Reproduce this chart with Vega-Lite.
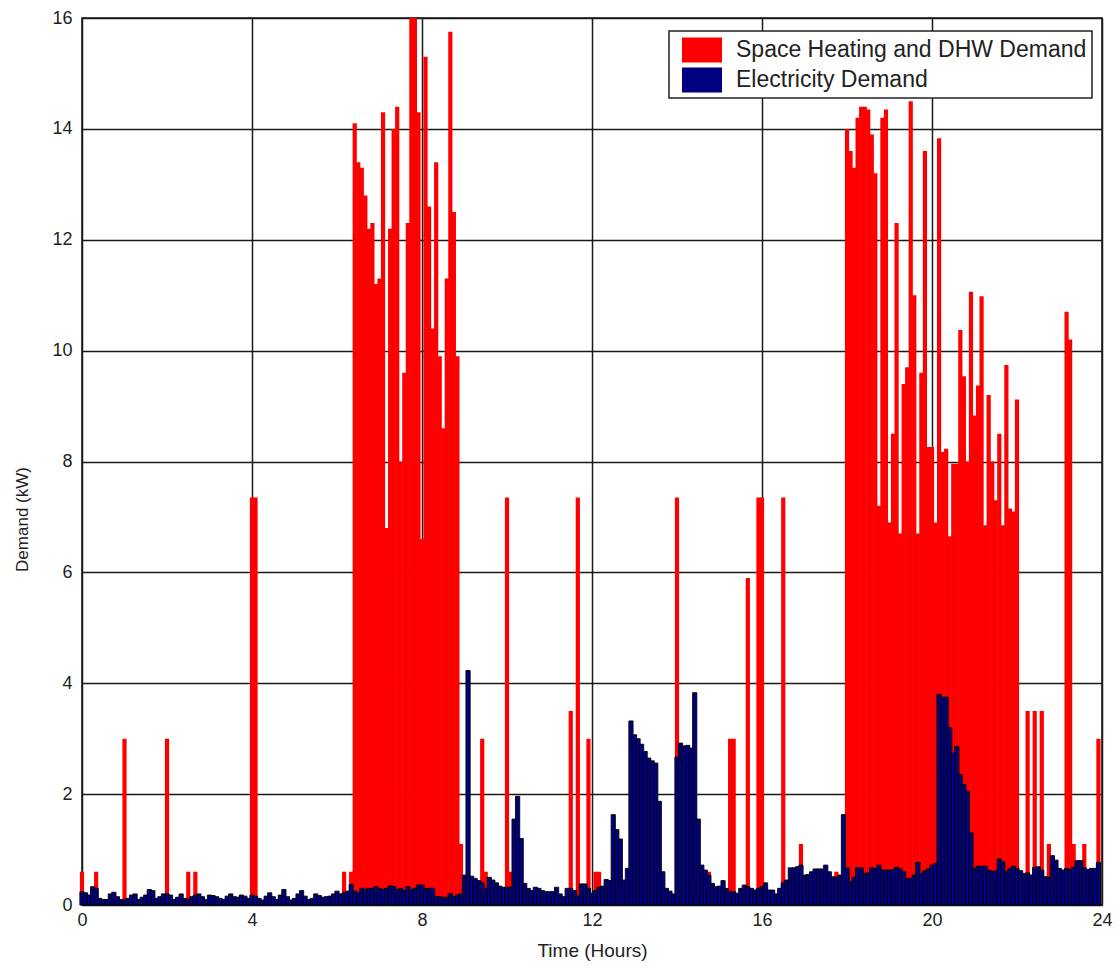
{
"$schema": "https://vega.github.io/schema/vega-lite/v6.json",
"width": 1020, "height": 887,
"autosize": {"type": "none"},
"padding": {"left": 82, "top": 18, "right": 18, "bottom": 69},
"background": "white",
"config": {
  "view": {"stroke": "#111111", "strokeWidth": 1.5},
  "font": "Liberation Sans",
  "axis": {"gridColor": "#1a1a1a", "gridWidth": 1.5, "gridOpacity": 1, "domain": false, "ticks": false, "tickSize": 0,
    "labelFont": "Liberation Sans", "labelColor": "#222222", "titleFont": "Liberation Sans", "titleColor": "#222222", "titleFontWeight": "normal"}
},
"data": {"values": [
{"m":0,"h":0.6,"e":0.24},{"m":5,"e":0.22},{"m":10,"e":0.18},{"m":15,"e":0.33},{"m":20,"h":0.6,"e":0.3},{"m":25,"e":0.12},{"m":30,"e":0.1},{"m":35,"e":0.1},{"m":40,"e":0.2},{"m":45,"e":0.23},{"m":50,"e":0.15},{"m":55,"e":0.1},
{"m":60,"h":3.0,"e":0.1},{"m":65,"e":0.12},{"m":70,"e":0.18},{"m":75,"e":0.2},{"m":80,"e":0.1},{"m":85,"e":0.14},{"m":90,"e":0.18},{"m":95,"e":0.28},{"m":100,"e":0.26},{"m":105,"e":0.12},{"m":110,"e":0.15},{"m":115,"e":0.2},
{"m":120,"h":3.0,"e":0.2},{"m":125,"e":0.18},{"m":130,"e":0.1},{"m":135,"e":0.14},{"m":140,"e":0.2},{"m":145,"e":0.12},{"m":150,"h":0.6,"e":0.1},{"m":155,"e":0.15},{"m":160,"h":0.6,"e":0.18},{"m":165,"e":0.2},{"m":170,"e":0.15},{"m":175,"e":0.1},
{"m":180,"e":0.18},{"m":185,"e":0.17},{"m":190,"e":0.15},{"m":195,"e":0.12},{"m":200,"e":0.1},{"m":205,"e":0.16},{"m":210,"e":0.2},{"m":215,"e":0.15},{"m":220,"e":0.14},{"m":225,"e":0.18},{"m":230,"e":0.16},{"m":235,"e":0.12},
{"m":240,"h":7.35,"e":0.18},{"m":245,"h":7.35,"e":0.16},{"m":250,"e":0.12},{"m":255,"e":0.09},{"m":260,"e":0.16},{"m":265,"e":0.22},{"m":270,"e":0.15},{"m":275,"e":0.1},{"m":280,"e":0.18},{"m":285,"e":0.28},{"m":290,"e":0.15},{"m":295,"e":0.09},
{"m":300,"e":0.12},{"m":305,"e":0.2},{"m":310,"e":0.26},{"m":315,"e":0.16},{"m":320,"e":0.1},{"m":325,"e":0.12},{"m":330,"e":0.2},{"m":335,"e":0.17},{"m":340,"e":0.14},{"m":345,"e":0.15},{"m":350,"e":0.16},{"m":355,"e":0.2},
{"m":360,"e":0.25},{"m":365,"e":0.2},{"m":370,"h":0.6,"e":0.22},{"m":375,"e":0.25},{"m":380,"h":0.6,"e":0.37},{"m":385,"h":14.1,"e":0.25},{"m":390,"h":13.4,"e":0.22},{"m":395,"h":13.3,"e":0.3},{"m":400,"h":12.8,"e":0.28},{"m":405,"h":12.2,"e":0.3},{"m":410,"h":12.3,"e":0.3},{"m":415,"h":11.2,"e":0.33},
{"m":420,"h":11.3,"e":0.3},{"m":425,"h":14.3,"e":0.28},{"m":430,"h":6.8,"e":0.3},{"m":435,"h":12.2,"e":0.35},{"m":440,"h":14.0,"e":0.33},{"m":445,"h":14.4,"e":0.28},{"m":450,"h":8.0,"e":0.3},{"m":455,"h":9.6,"e":0.26},{"m":460,"h":12.3,"e":0.33},{"m":465,"h":16.0,"e":0.28},{"m":470,"h":16.0,"e":0.3},{"m":475,"h":14.3,"e":0.36},
{"m":480,"h":6.6,"e":0.36},{"m":485,"h":15.3,"e":0.3},{"m":490,"h":12.6,"e":0.3},{"m":495,"h":10.4,"e":0.3},{"m":500,"h":13.4,"e":0.15},{"m":505,"h":9.9,"e":0.15},{"m":510,"h":8.6,"e":0.14},{"m":515,"h":11.3,"e":0.14},{"m":520,"h":15.75,"e":0.21},{"m":525,"h":12.5,"e":0.15},{"m":530,"h":9.9,"e":0.18},{"m":535,"h":1.1,"e":0.2},
{"m":540,"e":0.54},{"m":545,"e":4.23},{"m":550,"e":0.52},{"m":555,"e":0.48},{"m":560,"e":0.44},{"m":565,"h":3.0,"e":0.4},{"m":570,"h":0.6,"e":0.3},{"m":575,"e":0.5},{"m":580,"e":0.45},{"m":585,"e":0.4},{"m":590,"e":0.34},{"m":595,"e":0.32},
{"m":600,"h":7.35,"e":0.32},{"m":605,"h":0.6,"e":0.32},{"m":610,"e":1.55},{"m":615,"e":1.96},{"m":620,"e":1.2},{"m":625,"e":0.39},{"m":630,"e":0.3},{"m":635,"e":0.26},{"m":640,"e":0.32},{"m":645,"e":0.3},{"m":650,"e":0.26},{"m":655,"e":0.24},
{"m":660,"e":0.24},{"m":665,"e":0.24},{"m":670,"e":0.32},{"m":675,"e":0.2},{"m":680,"e":0.15},{"m":685,"e":0.3},{"m":690,"h":3.5,"e":0.3},{"m":695,"e":0.26},{"m":700,"h":7.35,"e":0.16},{"m":705,"e":0.38},{"m":710,"e":0.38},{"m":715,"h":3.0,"e":0.3},
{"m":720,"e":0.21},{"m":725,"h":0.6,"e":0.26},{"m":730,"h":0.6,"e":0.32},{"m":735,"e":0.34},{"m":740,"e":0.46},{"m":745,"e":0.44},{"m":750,"e":1.63},{"m":755,"e":1.36},{"m":760,"e":1.19},{"m":765,"e":0.45},{"m":770,"e":0.66},{"m":775,"e":3.32},
{"m":780,"e":3.07},{"m":785,"e":3.0},{"m":790,"e":2.9},{"m":795,"e":2.77},{"m":800,"e":2.65},{"m":805,"e":2.6},{"m":810,"e":2.56},{"m":815,"e":1.87},{"m":820,"e":0.6},{"m":825,"e":0.3},{"m":830,"e":0.25},{"m":835,"e":0.2},
{"m":840,"h":7.35,"e":2.67},{"m":845,"e":2.92},{"m":850,"e":2.87},{"m":855,"e":2.88},{"m":860,"e":2.83},{"m":865,"e":3.83},{"m":870,"e":1.55},{"m":875,"e":0.72},{"m":880,"e":0.63},{"m":885,"h":0.6,"e":0.54},{"m":890,"e":0.39},{"m":895,"e":0.33},
{"m":900,"e":0.34},{"m":905,"e":0.44},{"m":910,"e":0.3},{"m":915,"h":3.0,"e":0.24},{"m":920,"h":3.0,"e":0.24},{"m":925,"e":0.21},{"m":930,"e":0.3},{"m":935,"e":0.36},{"m":940,"h":5.9,"e":0.33},{"m":945,"e":0.3},{"m":950,"e":0.27},{"m":955,"h":7.35,"e":0.3},
{"m":960,"h":7.35,"e":0.33},{"m":965,"e":0.4},{"m":970,"e":0.27},{"m":975,"e":0.27},{"m":980,"e":0.2},{"m":985,"e":0.3},{"m":990,"h":7.35,"e":0.4},{"m":995,"e":0.45},{"m":1000,"e":0.67},{"m":1005,"e":0.67},{"m":1010,"e":0.69},{"m":1015,"h":1.1,"e":0.72},
{"m":1020,"e":0.54},{"m":1025,"e":0.55},{"m":1030,"e":0.6},{"m":1035,"e":0.65},{"m":1040,"e":0.65},{"m":1045,"e":0.65},{"m":1050,"e":0.72},{"m":1055,"e":0.6},{"m":1060,"e":0.51},{"m":1065,"h":0.6,"e":0.5},{"m":1070,"e":0.54},{"m":1075,"e":1.63},
{"m":1080,"h":14.0,"e":0.67},{"m":1085,"h":13.6,"e":0.42},{"m":1090,"h":13.3,"e":0.5},{"m":1095,"h":14.2,"e":0.67},{"m":1100,"h":14.4,"e":0.67},{"m":1105,"h":14.4,"e":0.57},{"m":1110,"h":14.35,"e":0.58},{"m":1115,"h":13.9,"e":0.67},{"m":1120,"h":13.2,"e":0.66},{"m":1125,"h":7.2,"e":0.72},{"m":1130,"h":14.2,"e":0.63},{"m":1135,"h":14.35,"e":0.63},
{"m":1140,"h":6.9,"e":0.63},{"m":1145,"h":8.5,"e":0.64},{"m":1150,"h":12.3,"e":0.68},{"m":1155,"h":6.7,"e":0.65},{"m":1160,"h":9.4,"e":0.6},{"m":1165,"h":9.7,"e":0.48},{"m":1170,"h":14.5,"e":0.48},{"m":1175,"h":11.0,"e":0.54},{"m":1180,"h":6.7,"e":0.77},{"m":1185,"h":9.6,"e":0.57},{"m":1190,"h":13.6,"e":0.62},{"m":1195,"h":8.26,"e":0.65},
{"m":1200,"h":8.26,"e":0.72},{"m":1205,"h":6.9,"e":0.75},{"m":1210,"h":13.83,"e":3.8},{"m":1215,"h":8.17,"e":3.75},{"m":1220,"h":8.23,"e":3.75},{"m":1225,"h":6.65,"e":3.2},{"m":1230,"h":7.96,"e":2.74},{"m":1235,"h":7.96,"e":2.86},{"m":1240,"h":10.37,"e":2.35},{"m":1245,"h":9.54,"e":2.17},{"m":1250,"h":8.0,"e":2.05},{"m":1255,"h":11.06,"e":1.3},
{"m":1260,"h":8.83,"e":0.66},{"m":1265,"h":9.37,"e":0.7},{"m":1270,"h":10.98,"e":0.7},{"m":1275,"h":6.85,"e":0.7},{"m":1280,"h":9.2,"e":0.63},{"m":1285,"h":8.0,"e":0.6},{"m":1290,"h":7.3,"e":0.62},{"m":1295,"h":8.5,"e":0.83},{"m":1300,"h":6.85,"e":0.78},{"m":1305,"h":9.74,"e":0.6},{"m":1310,"h":7.15,"e":0.66},{"m":1315,"h":7.1,"e":0.7},
{"m":1320,"h":9.12,"e":0.66},{"m":1325,"e":0.62},{"m":1330,"e":0.57},{"m":1335,"h":3.5,"e":0.58},{"m":1340,"e":0.54},{"m":1345,"h":3.5,"e":0.68},{"m":1350,"e":0.69},{"m":1355,"h":3.5,"e":0.63},{"m":1360,"e":0.51},{"m":1365,"h":1.1,"e":0.5},{"m":1370,"e":0.89},{"m":1375,"e":0.81},
{"m":1380,"e":0.66},{"m":1385,"e":0.63},{"m":1390,"h":10.7,"e":0.66},{"m":1395,"h":10.2,"e":0.64},{"m":1400,"h":1.1,"e":0.68},{"m":1405,"e":0.8},{"m":1410,"e":0.8},{"m":1415,"h":1.1,"e":0.67},{"m":1420,"e":0.64},{"m":1425,"e":0.66},{"m":1430,"e":0.66},{"m":1435,"h":3.0,"e":0.77}
]},
"layer": [
  {
    "mark": {"type": "bar", "width": 4.2},
    "encoding": {
      "x": {"field": "m", "type": "quantitative",
        "scale": {"domain": [0, 1440], "nice": false, "zero": false, "padding": 0},
        "axis": {"values": [0, 240, 480, 720, 960, 1200, 1440], "labelExpr": "datum.value / 60", "title": "Time (Hours)",
          "labelFontSize": 18, "titleFontSize": 19, "labelPadding": 6, "titlePadding": 12, "labelFlush": false}},
      "y": {"field": "h", "type": "quantitative",
        "scale": {"domain": [0, 16], "nice": false},
        "axis": {"values": [0, 2, 4, 6, 8, 10, 12, 14, 16], "format": "d", "title": "Demand (kW)", "labelFontSize": 18, "titleFontSize": 17,
          "labelPadding": 10, "titleX": -60, "titleY": 501, "titleAngle": -90, "titleAlign": "center", "titleBaseline": "middle"}},
      "color": {"datum": "Space Heating and DHW Demand",
        "scale": {"domain": ["Space Heating and DHW Demand", "Electricity Demand"], "range": ["#ff0000", "#000080"]},
        "legend": {"orient": "none", "legendX": 587, "legendY": 13, "title": null,
          "symbolType": "M-1.43,-0.89H1.43V0.89H-1.43Z", "symbolSize": 784, "symbolStrokeWidth": 0,
          "labelFontSize": 23, "labelFont": "Liberation Sans", "labelColor": "#222222", "labelLimit": 0,
          "fillColor": "white", "strokeColor": "#222222",
          "padding": 5, "symbolOffset": 14, "labelOffset": 20, "rowPadding": 3,
          "encode": {"legend": {"update": {"strokeWidth": {"value": 1.5}}}}}}
    }
  },
  {
    "mark": {"type": "bar", "width": 4.2, "stroke": "#000000", "strokeWidth": 0.9},
    "encoding": {
      "x": {"field": "m", "type": "quantitative"},
      "y": {"field": "e", "type": "quantitative", "title": "Demand (kW)"},
      "color": {"datum": "Electricity Demand"}
    }
  }
]
}
